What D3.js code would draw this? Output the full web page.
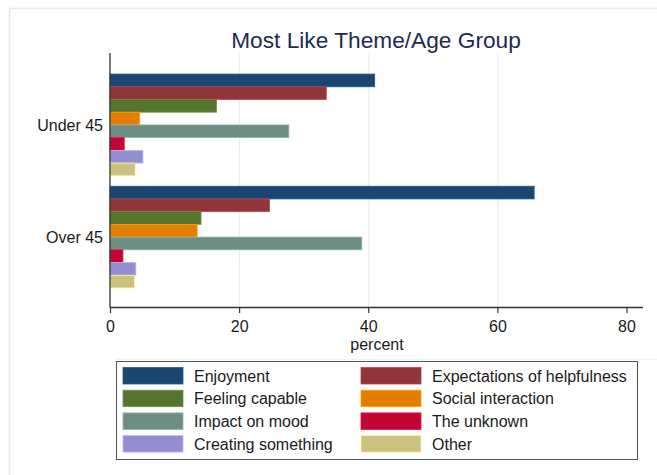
<!DOCTYPE html>
<html><head><meta charset="utf-8">
<script src="https://cdn.jsdelivr.net/npm/d3@7"></script>
<style>body{margin:0;background:#fff}svg{display:block}text{font-family:Arial,"Liberation Sans",sans-serif}</style>
</head><body>
<svg id="c" width="657" height="475"></svg>
<script>
const groups = ["Under 45", "Over 45"];
const themes = ["Enjoyment", "Expectations of helpfulness", "Feeling capable", "Social interaction",
                "Impact on mood", "The unknown", "Creating something", "Other"];
const underValues = [41.0, 33.5, 16.5, 4.6, 27.7, 2.2, 5.1, 3.9];
const overValues  = [65.7, 24.7, 14.1, 13.5, 39.0, 2.0, 4.0, 3.8];
const xTicks = [0, 20, 40, 60, 80];
const colors = ["#1a476f", "#90353b", "#55752f", "#e37e00", "#6e8e84", "#c10534", "#938dd2", "#cac27e"];
const titleText = "Most Like Theme/Age Group";
const xLabel = "percent";

const valuesByGroup = {"Under 45": underValues, "Over 45": overValues};
const svg = d3.select("#c");

// faint graph frame
svg.append("path").attr("d","M9.5,475 V8.5 H657").attr("fill","none").attr("stroke","#e4ecec").attr("stroke-width",1.5);
svg.append("line").attr("x1",116).attr("x2",657).attr("y1",359.5).attr("y2",359.5).attr("stroke","#eef3f3");

const x = d3.scaleLinear().domain([0, 80]).range([110, 626.5]);
const y0 = d3.scaleBand().domain(groups).range([55, 307]).paddingInner(0.093).paddingOuter(0.17);
const y1 = d3.scaleBand().domain(themes).range([0, y0.bandwidth()]);

// grid
svg.append("g").selectAll("line").data(xTicks.filter(d => d > 0 && d < 80)).join("line")
  .attr("x1", d => x(d) + 0.5).attr("x2", d => x(d) + 0.5).attr("y1", 53).attr("y2", 307)
  .attr("stroke", "#e3edf1").attr("stroke-width", 1);

// bars
const g = svg.append("g").selectAll("g").data(groups).join("g")
  .attr("transform", d => `translate(0,${y0(d)})`);
g.selectAll("rect").data(gr => themes.map((t, i) => ({t, i, v: valuesByGroup[gr][i]}))).join("rect")
  .attr("x", x(0)).attr("y", d => y1(d.t))
  .attr("width", d => x(d.v) - x(0)).attr("height", y1.bandwidth())
  .attr("fill", d => colors[d.i])
  .attr("stroke", d => d3.color(colors[d.i]).brighter(0.7)).attr("stroke-width", 0.8);

// x axis
const xAxis = svg.append("g").attr("transform", "translate(0,307)")
  .call(d3.axisBottom(x).tickValues(xTicks).tickSize(6).tickPadding(8).tickSizeOuter(0));
xAxis.select(".domain").attr("d", `M${x(0)},0.5H643`).attr("stroke", "#333").attr("stroke-width", 1.3);
xAxis.selectAll(".tick line").attr("stroke", "#333").attr("stroke-width", 1.2);
xAxis.selectAll(".tick text").attr("font-size", 16).attr("fill", "#1a1a1a")
  .attr("font-family", "Arial, 'Liberation Sans', sans-serif");

// y axis
svg.append("line").attr("x1", 110).attr("x2", 110).attr("y1", 53).attr("y2", 307.5)
  .attr("stroke", "#333").attr("stroke-width", 1.3);
svg.append("g").selectAll("text").data(groups).join("text")
  .attr("x", 103).attr("y", d => y0(d) + y0.bandwidth() / 2 + 6)
  .attr("text-anchor", "end").attr("font-size", 16).attr("fill", "#1a1a1a").text(d => d);

// labels
svg.append("text").attr("x", 377).attr("y", 350).attr("text-anchor", "middle")
  .attr("font-size", 16).attr("fill", "#1a1a1a").text(xLabel);
svg.append("text").attr("x", 376).attr("y", 47.5).attr("font-size", 22.7).attr("text-anchor", "middle")
  .attr("fill", "#1e2c50").text(titleText);

// legend
svg.append("rect").attr("x", 116.5).attr("y", 361.5).attr("width", 521).attr("height", 98)
  .attr("fill", "#fff").attr("stroke", "#555").attr("stroke-width", 1);
const lg = svg.append("g").selectAll("g").data(themes).join("g")
  .attr("transform", (d, i) => `translate(${i % 2 === 0 ? 123 : 361},${367.5 + Math.floor(i / 2) * 22.7})`);
lg.append("rect").attr("width", 60).attr("height", 16.5)
  .attr("fill", (d, i) => colors[i])
  .attr("stroke", (d, i) => d3.color(colors[i]).brighter(0.7)).attr("stroke-width", 0.8);
lg.append("text").attr("x", 71).attr("y", 14).attr("font-size", 16).attr("fill", "#1a1a1a").text(d => d);
</script>
</body></html>
